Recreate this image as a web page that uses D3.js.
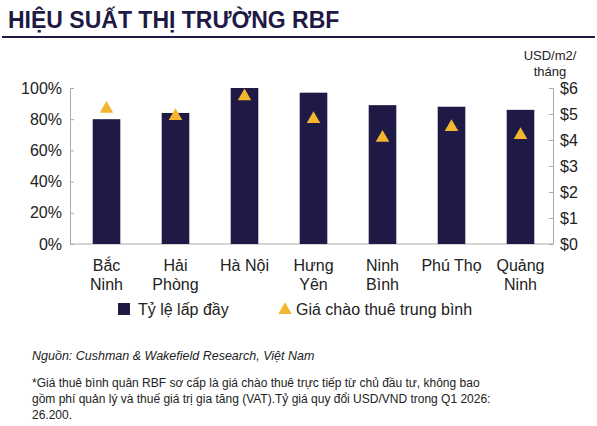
<!DOCTYPE html><html><head><meta charset="utf-8"><script src="https://cdn.jsdelivr.net/npm/d3@7"></script>
<style>body{margin:0;background:#fff}svg{font-family:"Liberation Sans",Arial,sans-serif}</style></head><body><svg width="597" height="426"></svg>
<script>
const categories=[["Bắc","Ninh"],["Hải","Phòng"],["Hà Nội"],["Hưng","Yên"],["Ninh","Bình"],["Phú Thọ"],["Quảng","Ninh"]];
const occupancy=[80,84,100,97,89,88,86];
const rent=[5.2,4.92,5.68,4.8,4.08,4.5,4.19];
const leftTicks=[0,20,40,60,80,100];
const rightTicks=[0,1,2,3,4,5,6];
const navy="#1e1a45",gold="#f4b52f";
const svg=d3.select("svg");
svg.append("text").attr("x",8).attr("y",28).attr("font-size",23).attr("font-weight","bold").attr("fill",navy).text("HIỆU SUẤT THỊ TRƯỜNG RBF");
svg.append("line").attr("x1",2).attr("x2",595).attr("y1",37).attr("y2",37).attr("stroke",navy).attr("stroke-width",2);
const x=d3.scaleBand().domain(d3.range(7)).range([72,555]).paddingInner(0.6).paddingOuter(0.3);
const yl=d3.scaleLinear().domain([0,100]).range([244,88]);
const yr=d3.scaleLinear().domain([0,6]).range([244,88]);
const gl=svg.append("g").attr("transform","translate(70,0)").call(d3.axisRight(yl).tickValues(leftTicks).tickFormat(d=>d+"%").tickSize(4));
gl.selectAll("text").attr("font-size",16).attr("fill","#222").attr("text-anchor","end").attr("x",-8);
const gr=svg.append("g").attr("transform","translate(553,0)").call(d3.axisLeft(yr).tickValues(rightTicks).tickFormat(d=>"$"+d).tickSize(4));
gr.selectAll("text").attr("font-size",16).attr("fill","#222").attr("text-anchor","start").attr("x",7);
svg.selectAll(".domain,.tick line").attr("stroke","#aaa");
svg.append("line").attr("x1",70).attr("x2",553).attr("y1",244).attr("y2",244).attr("stroke","#aaa");
svg.selectAll(".bar").data(occupancy).join("rect").attr("x",(d,i)=>x(i)).attr("width",x.bandwidth()).attr("y",d=>yl(d)).attr("height",d=>244-yl(d)).attr("fill",navy);
const tri=d3.symbol().type(d3.symbolTriangle).size(80);
svg.selectAll(".tri").data(rent).join("path").attr("d",tri).attr("transform",(d,i)=>`translate(${x(i)+x.bandwidth()/2},${yr(d)})`).attr("fill",gold);
categories.forEach((c,i)=>{const t=svg.append("text").attr("font-size",16).attr("fill","#222").attr("text-anchor","middle");
c.forEach((l,j)=>t.append("tspan").attr("x",x(i)+x.bandwidth()/2).attr("y",271+j*19).text(l));});
svg.append("text").attr("x",550).attr("y",60).attr("text-anchor","middle").attr("font-size",13).attr("fill","#222").text("USD/m2/");
svg.append("text").attr("x",550).attr("y",76).attr("text-anchor","middle").attr("font-size",13).attr("fill","#222").text("tháng");
svg.append("rect").attr("x",118).attr("y",303).attr("width",12).attr("height",12).attr("fill",navy);
svg.append("text").attr("x",138).attr("y",315).attr("font-size",16).attr("fill","#222").text("Tỷ lệ lấp đầy");
svg.append("path").attr("d",d3.symbol().type(d3.symbolTriangle).size(80)).attr("transform","translate(285,310)").attr("fill",gold);
svg.append("text").attr("x",296).attr("y",315).attr("font-size",16).attr("fill","#222").text("Giá chào thuê trung bình");
svg.append("text").attr("x",32).attr("y",360).attr("font-size",12.5).attr("font-style","italic").attr("fill","#222").text("Nguồn: Cushman & Wakefield Research, Việt Nam");
["*Giá thuê bình quân RBF sơ cấp là giá chào thuê trực tiếp từ chủ đầu tư, không bao","gồm phí quản lý và thuế giá trị gia tăng (VAT).Tỷ giá quy đổi USD/VND trong Q1 2026:","26.200."].forEach((l,i)=>svg.append("text").attr("x",32).attr("y",387+i*16).attr("font-size",12).attr("fill","#222").text(l));
</script></body></html>
